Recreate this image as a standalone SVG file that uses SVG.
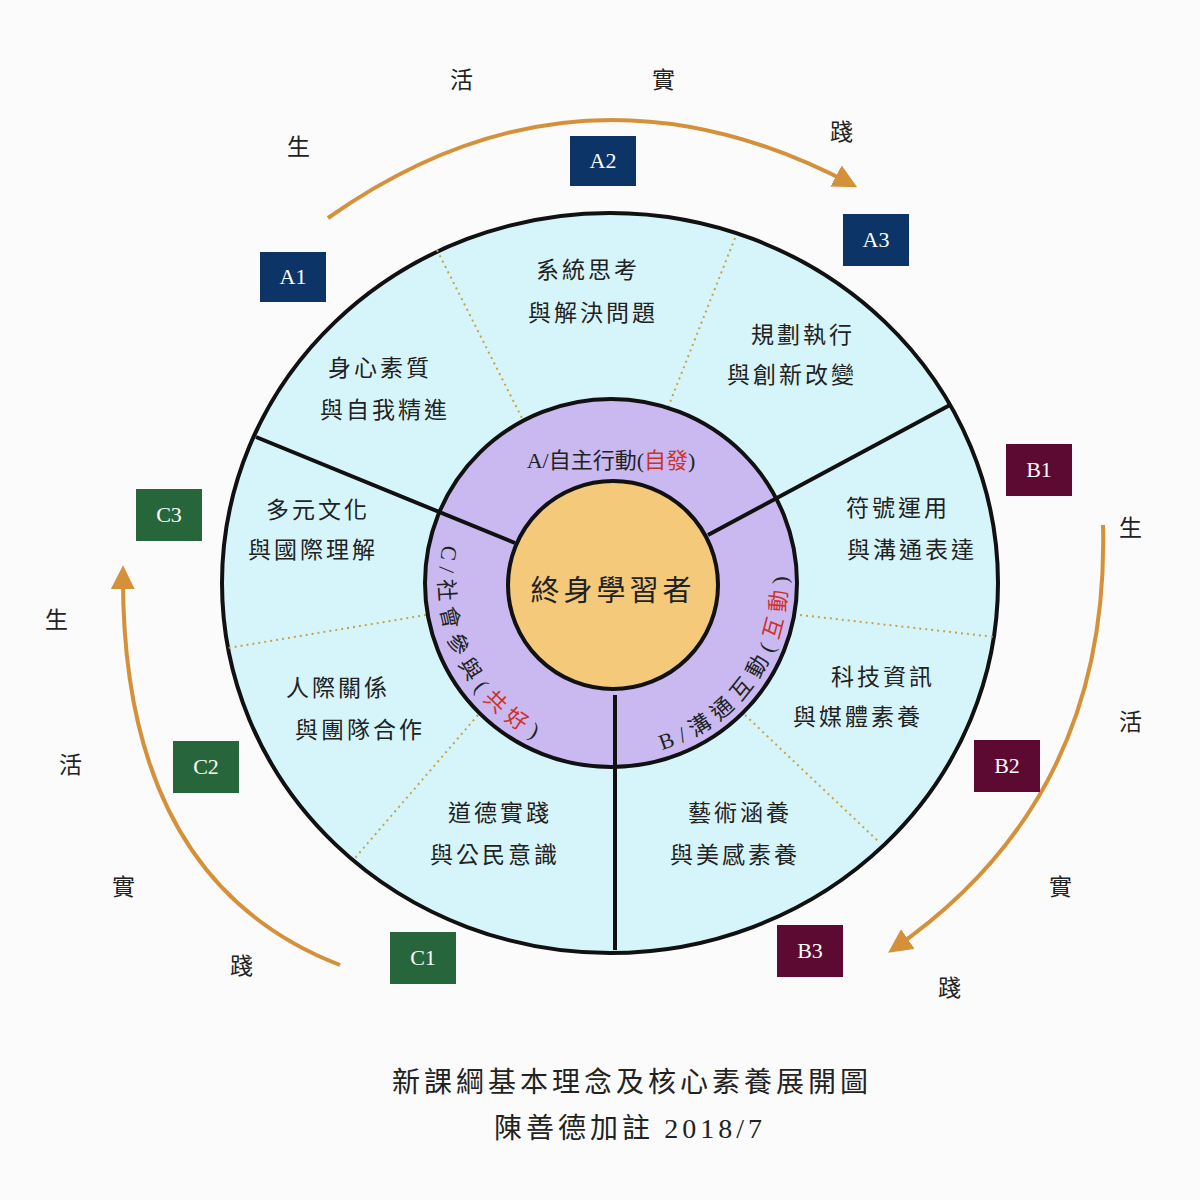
<svg xmlns="http://www.w3.org/2000/svg" xmlns:xlink="http://www.w3.org/1999/xlink" width="1200" height="1200" viewBox="0 0 1200 1200">
<style>
.t{font-family:"Noto Sans CJK TC","Noto Sans CJK SC",sans-serif;font-size:23px;fill:#222;text-anchor:middle;letter-spacing:3px}
.big{font-family:"Noto Sans CJK TC",sans-serif;font-size:29px;fill:#222;text-anchor:middle;letter-spacing:4px}
.lbl{font-family:"Liberation Serif",serif;font-size:22px;fill:#fff;text-anchor:middle}
.ring{font-family:"Liberation Serif","Noto Sans CJK TC",serif;font-size:22px;fill:#222}
.rp{letter-spacing:7px}
.red{fill:#d0302a}
.A{fill:#0d3466}.B{fill:#5c0a32}.C{fill:#27663a}
.dot{stroke:#c8a24a;stroke-width:2;stroke-dasharray:2 4;fill:none}
.sol{stroke:#111;stroke-width:4;fill:none}
.arc{stroke:#d4913a;stroke-width:4;fill:none}
</style>
<defs>
<marker id="ah" viewBox="0 0 10 10" refX="8" refY="5" markerWidth="6" markerHeight="6" orient="auto"><path d="M0,0L10,5L0,10z" fill="#d4913a"/></marker>
<path id="pc" d="M443,545 A174,174 0 0 0 600,757"/>
<path id="pb" d="M662,750 A174,174 0 0 0 783,545"/>
</defs>
<rect width="1200" height="1200" fill="#fbfbfb"/>
<g id="outer"><ellipse cx="610" cy="583" rx="388" ry="370" fill="#d6f5fa" stroke="#111" stroke-width="4"/></g>
<g id="connectors">
<path class="dot" d="M437,250L527,428M735,238L665,415M800,615L995,637M426,615L228,648M478,715L355,858M745,715L880,843"/>
<path class="arc" d="M328,218 Q580,40 853,185" marker-end="url(#ah)"/>
<path class="arc" d="M1103,525 Q1110,800 892,950" marker-end="url(#ah)"/>
<path class="arc" d="M340,965 Q120,880 123,570" marker-end="url(#ah)"/>
</g>
<g id="ring"><ellipse cx="611" cy="583" rx="186" ry="184" fill="#c9b9f0" stroke="#111" stroke-width="4"/>
<path class="sol" d="M950,405L708,535M256,437L515,543M615,695L615,950"/>
<text class="ring" x="611" y="468" text-anchor="middle">A/自主行動(<tspan class="red">自發</tspan>)</text>
<text class="ring rp"><textPath xlink:href="#pc">C/社會參與(<tspan class="red">共好</tspan>)</textPath></text>
<text class="ring rp"><textPath xlink:href="#pb">B/溝通互動(<tspan class="red">互動</tspan>)</textPath></text>
</g>
<g id="core"><ellipse cx="613" cy="585" rx="105" ry="104" fill="#f5c97a" stroke="#111" stroke-width="4"/><text class="big" x="613" y="601">終身學習者</text></g>
<g id="n1"><text class="t" x="588" y="278">系統思考</text><text class="t" x="593" y="321">與解決問題</text></g>
<g id="n2"><text class="t" x="803" y="343">規劃執行</text><text class="t" x="792" y="383">與創新改變</text></g>
<g id="n3"><text class="t" x="380" y="376">身心素質</text><text class="t" x="385" y="418">與自我精進</text></g>
<g id="n4"><text class="t" x="318" y="518">多元文化</text><text class="t" x="313" y="558">與國際理解</text></g>
<g id="n5"><text class="t" x="338" y="696">人際關係</text><text class="t" x="360" y="738">與團隊合作</text></g>
<g id="n6"><text class="t" x="500" y="821">道德實踐</text><text class="t" x="495" y="863">與公民意識</text></g>
<g id="n7"><text class="t" x="740" y="821">藝術涵養</text><text class="t" x="735" y="863">與美感素養</text></g>
<g id="n8"><text class="t" x="883" y="685">科技資訊</text><text class="t" x="858" y="725">與媒體素養</text></g>
<g id="n9"><text class="t" x="898" y="516">符號運用</text><text class="t" x="912" y="558">與溝通表達</text></g>
<g id="A1"><rect class="A" x="260" y="252" width="66" height="50"/><text class="lbl" x="293" y="284">A1</text></g>
<g id="A2"><rect class="A" x="570" y="136" width="66" height="50"/><text class="lbl" x="603" y="168">A2</text></g>
<g id="A3"><rect class="A" x="843" y="214" width="66" height="52"/><text class="lbl" x="876" y="247">A3</text></g>
<g id="B1"><rect class="B" x="1006" y="444" width="66" height="52"/><text class="lbl" x="1039" y="477">B1</text></g>
<g id="B2"><rect class="B" x="974" y="740" width="66" height="52"/><text class="lbl" x="1007" y="773">B2</text></g>
<g id="B3"><rect class="B" x="777" y="925" width="66" height="52"/><text class="lbl" x="810" y="958">B3</text></g>
<g id="C3"><rect class="C" x="136" y="489" width="66" height="52"/><text class="lbl" x="169" y="522">C3</text></g>
<g id="C2"><rect class="C" x="173" y="741" width="66" height="52"/><text class="lbl" x="206" y="774">C2</text></g>
<g id="C1"><rect class="C" x="390" y="932" width="66" height="52"/><text class="lbl" x="423" y="965">C1</text></g>
<g id="words">
<text class="t" x="300" y="155">生</text><text class="t" x="463" y="88">活</text><text class="t" x="665" y="88">實</text><text class="t" x="843" y="140">踐</text>
<text class="t" x="1132" y="536">生</text><text class="t" x="1132" y="730">活</text><text class="t" x="1062" y="895">實</text><text class="t" x="951" y="996">踐</text>
<text class="t" x="58" y="628">生</text><text class="t" x="72" y="773">活</text><text class="t" x="125" y="895">實</text><text class="t" x="243" y="974">踐</text>
</g>
<g id="title">
<text class="big" x="632" y="1092" style="font-size:28px">新課綱基本理念及核心素養展開圖</text>
<text class="big" x="630" y="1138" style="font-size:28px">陳善德加註 <tspan font-family="Liberation Serif">2018/7</tspan></text>
</g>
</svg>
